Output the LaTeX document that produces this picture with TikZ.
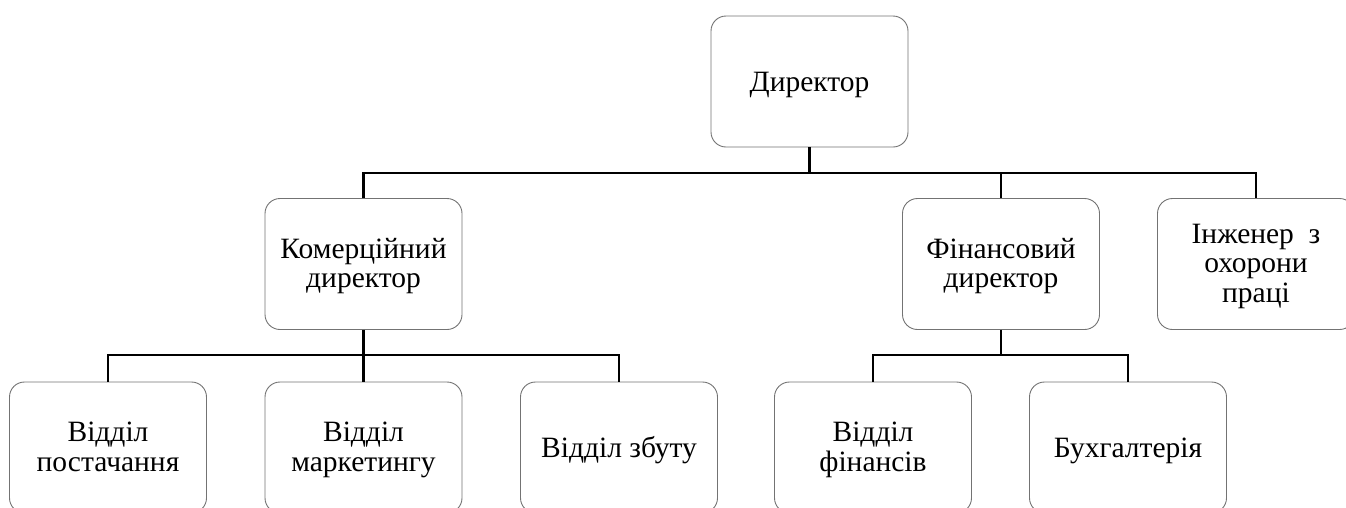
\documentclass[tikz,border=0pt]{standalone}
\usepackage{fontspec}
\setmainfont{Liberation Serif}
\begin{document}
\begin{tikzpicture}[x=1pt,y=-1pt,
  box/.style={draw=black!55, line width=0.9pt, rounded corners=15pt, fill=white,
    minimum width=197pt, minimum height=131pt, inner sep=0pt},
  txt/.style={align=center, inner sep=0pt,
    font=\fontsize{29.5}{29.5}\selectfont},
  conn/.style={draw=black, line width=2.6pt}]
\useasboundingbox (0,0) rectangle (1346,507);
\clip (0,0) rectangle (1346,507);
\node[box] (dir) at (809.5,81.5) {};
\node[box] (kom) at (363.5,264) {};
\node[box] (fin) at (1001,264) {};
\node[box] (ing) at (1256,264) {};
\node[box] (post) at (108,447.5) {};
\node[box] (mark) at (363.5,447.5) {};
\node[box] (zbut) at (619,447.5) {};
\node[box] (vfin) at (873,447.5) {};
\node[box] (buh) at (1128,447.5) {};
\node[txt] (dirT) at ([yshift=-4pt]dir.center) {\strut Директор};
\node[txt] (komT) at ([yshift=-3pt]kom.center) {\strut Комерційний\\\strut директор};
\node[txt] (finT) at ([yshift=-3pt]fin.center) {\strut Фінансовий\\\strut директор};
\node[txt] (ingT) at ([yshift=-3pt]ing.center) {\strut Інженер\ \ з\\\strut охорони\\\strut праці};
\node[txt] (postT) at ([yshift=-3pt]post.center) {\strut Відділ\\\strut постачання};
\node[txt] (markT) at ([yshift=-3pt]mark.center) {\strut Відділ\\\strut маркетингу};
\node[txt] (zbutT) at ([yshift=-4pt]zbut.center) {\strut Відділ збуту};
\node[txt] (vfinT) at ([yshift=-3pt]vfin.center) {\strut Відділ\\\strut фінансів};
\node[txt] (buhT) at ([yshift=-4pt]buh.center) {\strut Бухгалтерія};
\coordinate (bar1) at (0,173);
\coordinate (bar2) at (0,355);
\draw[conn] (dir.south) -- (dir.south |- bar1);
\draw[conn] (kom.north) -- (kom.north |- bar1) -- (ing.north |- bar1) -- (ing.north);
\draw[conn] (fin.north) -- (fin.north |- bar1);
\draw[conn] (kom.south) -- (kom.south |- bar2);
\draw[conn] (post.north) -- (post.north |- bar2) -- (zbut.north |- bar2) -- (zbut.north);
\draw[conn] (mark.north) -- (mark.north |- bar2);
\draw[conn] (fin.south) -- (fin.south |- bar2);
\draw[conn] (vfin.north) -- (vfin.north |- bar2) -- (buh.north |- bar2) -- (buh.north);
\end{tikzpicture}
\end{document}
